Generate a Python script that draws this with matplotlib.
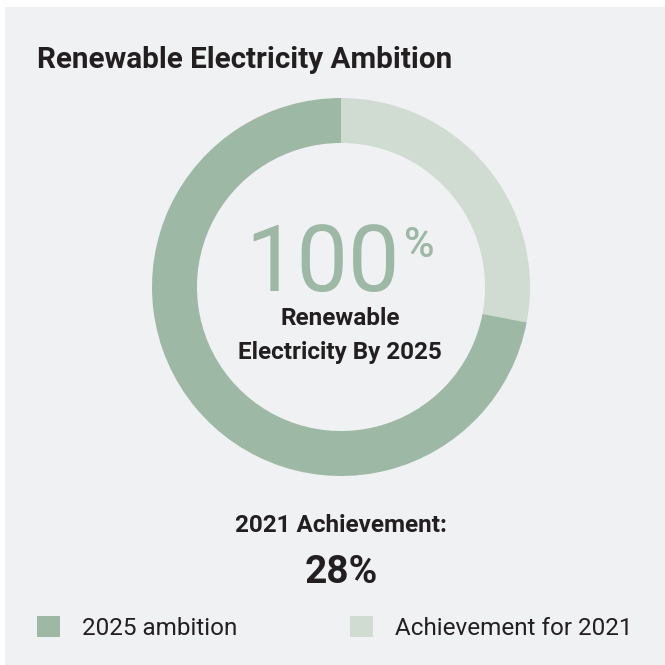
import matplotlib
matplotlib.use("Agg")
import matplotlib.pyplot as plt
from matplotlib.patches import Rectangle

# ---- data ----
labels = ["Achievement for 2021", "2025 ambition"]
values = [28, 72]
colors = ["#d0dcd2", "#9db8a5"]
title = "Renewable Electricity Ambition"
center_big = "100"
center_sub = "Renewable\nElectricity By 2025"
achv_label = "2021 Achievement:"
achv_value = "28%"

W = H = 665
DPI = 100
fig = plt.figure(figsize=(W / DPI, H / DPI), dpi=DPI)
fig.patch.set_facecolor("white")

def fx(x):
    return x / W

def fy(y):
    return 1 - y / H

BG = "#f0f1f3"
DARK = "#231f20"
fig.patches.append(Rectangle((fx(5), 0), 1 - fx(5), fy(7), transform=fig.transFigure,
                             facecolor=BG, edgecolor="none", zorder=-5))

FONT = "Roboto"

# title
fig.text(fx(37), fy(68), title, fontsize=21.3, fontweight="bold", color=DARK,
         family=FONT, ha="left", va="baseline")

# donut
cx, cy, R = 341, 287, 189
ax = fig.add_axes([fx(cx - R), fy(cy + R), 2 * R / W, 2 * R / H])
ax.set_zorder(2)
ax.set_facecolor("none")
wedges, _ = ax.pie(values, colors=colors, startangle=90, counterclock=False,
                   radius=1, wedgeprops=dict(width=0.238, edgecolor="none"))
ax.set_xlim(-1, 1)
ax.set_ylim(-1, 1)
ax.set_aspect("equal")
ax.axis("off")

# center texts
fig.text(fx(323), fy(291), center_big, fontsize=66, color=colors[1], family=FONT,
         ha="center", va="baseline", zorder=5)
fig.text(fx(419), fy(257), "%", fontsize=30, color=colors[1], family=FONT,
         ha="center", va="baseline", fontweight="medium", zorder=5)
fig.text(fx(340), fy(325), center_sub.split("\n")[0], fontsize=17.5, fontweight="bold",
         color=DARK, family=FONT, ha="center", va="baseline", zorder=5)
fig.text(fx(340), fy(359), center_sub.split("\n")[1], fontsize=17.5, fontweight="bold",
         color=DARK, family=FONT, ha="center", va="baseline", zorder=5)

fig.text(fx(341), fy(532), achv_label, fontsize=17.5, fontweight="bold", color=DARK,
         family=FONT, ha="center", va="baseline")
fig.text(fx(341), fy(583), achv_value, fontsize=28, fontweight="bold", color=DARK,
         family=FONT, ha="center", va="baseline")

# legends
order = [1, 0]
xs = [37, 350]
for i, x in zip(order, xs):
    leg = fig.legend([wedges[i]], [labels[i]], loc="center left",
                     bbox_to_anchor=(fx(x), fy(628)), frameon=False,
                     prop=dict(family=FONT, size=17.5), handlelength=0.95,
                     handleheight=0.95, handletextpad=0.9, borderpad=0,
                     borderaxespad=0)
    for t in leg.get_texts():
        t.set_color(DARK)

fig.savefig("out.png", dpi=DPI, facecolor=fig.get_facecolor())
